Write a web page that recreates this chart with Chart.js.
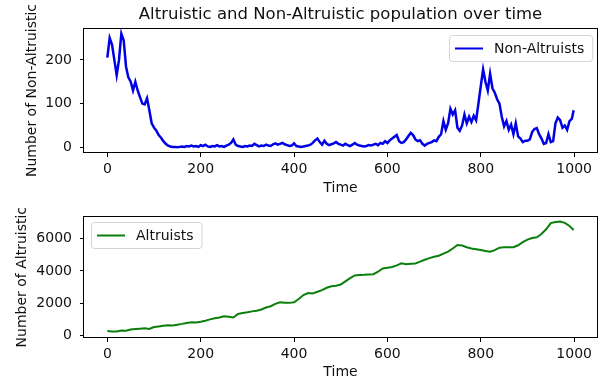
<!DOCTYPE html>
<html>
<head>
<meta charset="utf-8">
<script src="https://cdn.jsdelivr.net/npm/chart.js@4.4.0/dist/chart.umd.min.js"></script>
<style>
  body { margin: 0; background: #fff; }
  #wrap { position: relative; width: 607px; height: 387px; }
  canvas { position: absolute; left: 0; }
</style>
</head>
<body>
<div id="wrap">
  <canvas id="top" width="607" height="200" style="top:0"></canvas>
  <canvas id="bottom" width="607" height="187" style="top:200px"></canvas>
</div>
<script>
// non-altruists, read every 5 time steps (last one is t=999)
const nonAltruists = [
  205, 250, 235, 200, 165, 200, 260, 245, 185, 160, 150, 130, 150, 130, 115, 100, 98, 112, 85, 55,
  45, 38, 28, 22, 14, 8, 4, 2, 1, 1, 0, 1, 2, 1, 3, 2, 4, 2, 3, 1,
  5, 3, 6, 2, 1, 3, 2, 5, 2, 3, 1, 4, 6, 10, 18, 6, 3, 2, 1, 3,
  2, 4, 3, 8, 5, 2, 4, 3, 6, 4, 3, 7, 9, 6, 8, 10, 7, 5, 3, 4,
  9, 3, 2, 1, 2, 3, 4, 6, 10, 16, 20, 12, 6, 15, 8, 5, 7, 9, 12, 8,
  6, 4, 8, 5, 3, 6, 10, 6, 4, 3, 2, 3, 5, 4, 6, 8, 5, 10, 8, 14,
  10, 16, 20, 24, 28, 14, 10, 12, 18, 26, 33, 28, 18, 14, 16, 8, 4, 8, 10, 12,
  16, 14, 24, 30, 60, 40, 55, 88, 75, 85, 45, 38, 50, 75, 55, 70, 58, 72, 62, 100,
  140, 178, 150, 130, 168, 135, 125, 110, 100, 70, 48, 60, 40, 52, 30, 55, 25, 20, 12, 15,
  15, 18, 35, 42, 44, 30, 20, 8, 10, 30, 12, 14, 55, 68, 62, 45, 50, 40, 60, 65,
  85
];
// altruists, read every 10 time steps (last one is t=999)
const altruists = [
  250, 220, 230, 280, 270, 350, 380, 400, 420, 380,
  500, 540, 580, 620, 600, 650, 700, 760, 800, 790,
  830, 900, 980, 1050, 1100, 1180, 1150, 1100, 1320, 1380,
  1420, 1480, 1520, 1600, 1720, 1800, 1950, 2050, 2020, 2010,
  2050, 2250, 2500, 2620, 2600, 2700, 2800, 2950, 3050, 3080,
  3150, 3350, 3550, 3720, 3750, 3760, 3780, 3800, 3950, 4150,
  4200, 4250, 4350, 4480, 4420, 4450, 4470, 4580, 4700, 4800,
  4880, 4950, 5080, 5200, 5400, 5620, 5580, 5480, 5400, 5350,
  5300, 5250, 5200, 5300, 5450, 5480, 5470, 5480, 5600, 5800,
  5950, 6050, 6100, 6300, 6600, 6980, 7050, 7080, 7000, 6800,
  6550
];
const timeTop = nonAltruists.map((_, i) => Math.min(i * 5, 999));
const timeBottom = altruists.map((_, i) => Math.min(i * 10, 999));

const xTicks = [0, 200, 400, 600, 800, 1000];
const yTicksTop = [0, 100, 200];
const yTicksBottom = [0, 2000, 4000, 6000];

Chart.defaults.font.family = '"DejaVu Sans", sans-serif';
Chart.defaults.font.size = 14;
Chart.defaults.color = '#111';

// matplotlib style box around the axes
const framePlugin = {
  id: 'frame',
  afterDraw(chart) {
    const a = chart.chartArea, ctx = chart.ctx;
    ctx.save();
    ctx.strokeStyle = '#000';
    ctx.lineWidth = 1;
    ctx.strokeRect(Math.round(a.left) - 0.5, Math.round(a.top) + 0.5,
      Math.round(a.right - a.left) + 1, Math.round(a.bottom - a.top) - 1);
    ctx.restore();
  }
};

// legend drawn inside the plot
const boxLegend = {
  id: 'boxLegend',
  afterDraw(chart, args, opts) {
    const ctx = chart.ctx, a = chart.chartArea;
    const ds = chart.data.datasets[0];
    ctx.save();
    ctx.font = '14px "DejaVu Sans"';
    const tw = ctx.measureText(ds.label).width;
    const w = 45 + tw + 8, h = 26;
    const x = Math.round(opts.side === 'right' ? a.right - 5 - w : a.left + 7);
    const y = Math.round(a.top + opts.offsetY);
    ctx.beginPath();
    ctx.roundRect(x + 0.5, y + 0.5, w, h, 3);
    ctx.fillStyle = 'rgba(255,255,255,0.8)';
    ctx.fill();
    ctx.strokeStyle = '#d4d4d4';
    ctx.lineWidth = 1;
    ctx.stroke();
    ctx.beginPath();
    ctx.moveTo(x + 6, y + h / 2 + 0.5);
    ctx.lineTo(x + 34, y + h / 2 + 0.5);
    ctx.strokeStyle = ds.borderColor;
    ctx.lineWidth = 2;
    ctx.stroke();
    ctx.fillStyle = '#111';
    ctx.textBaseline = 'middle';
    ctx.fillText(ds.label, x + 45, y + h / 2 + 1);
    ctx.restore();
  }
};

function axisX(height, titleBottom) {
  return {
    type: 'linear',
    min: -50,
    max: 1049,
    afterBuildTicks: s => { s.ticks = xTicks.map(v => ({ value: v })); },
    afterFit: s => { s.height = height; },
    ticks: { padding: 4, maxRotation: 0, autoSkip: false, callback: v => String(v) },
    grid: { drawOnChartArea: false, drawTicks: true, tickLength: 4, color: '#000' },
    border: { display: false },
    title: { display: true, text: 'Time', padding: { top: 0, bottom: titleBottom } }
  };
}

function axisY(min, max, ticks, label, titleLeft) {
  return {
    type: 'linear',
    min: min,
    max: max,
    afterBuildTicks: s => { s.ticks = ticks.map(v => ({ value: v })); },
    afterFit: s => { s.width = 84; },
    ticks: { padding: 8, autoSkip: false, callback: v => String(v) },
    grid: { drawOnChartArea: false, drawTicks: true, tickLength: 4, color: '#000' },
    border: { display: false },
    title: { display: true, text: label, padding: { top: titleLeft, bottom: 0 } }
  };
}

new Chart(document.getElementById('top'), {
  type: 'line',
  data: {
    datasets: [{
      label: 'Non-Altruists',
      data: timeTop.map((t, i) => ({ x: t, y: nonAltruists[i] })),
      borderColor: '#0000e6',
      borderWidth: 2.5,
      pointRadius: 0,
      tension: 0
    }]
  },
  options: {
    responsive: false,
    animation: false,
    layout: { padding: { top: 0, right: 10, left: 0, bottom: 0 } },
    plugins: {
      legend: { display: false },
      tooltip: { enabled: false },
      boxLegend: { side: 'right', offsetY: 7 },
      title: {
        display: true,
        text: 'Altruistic and Non-Altruistic population over time',
        fullSize: false,
        color: '#111',
        font: { size: 16.5, weight: 'normal' },
        padding: { top: 5, bottom: 3.2 }
      }
    },
    scales: {
      x: axisX(47, 3.6),
      y: axisY(-13, 273, yTicksTop, 'Number of Non-Altruistic', 23.6)
    }
  },
  plugins: [framePlugin, boxLegend]
});

new Chart(document.getElementById('bottom'), {
  type: 'line',
  data: {
    datasets: [{
      label: 'Altruists',
      data: timeBottom.map((t, i) => ({ x: t, y: altruists[i] })),
      borderColor: '#0b7f0b',
      borderWidth: 2,
      pointRadius: 0,
      tension: 0
    }]
  },
  options: {
    responsive: false,
    animation: false,
    layout: { padding: { top: 13, right: 10, left: 0, bottom: 0 } },
    plugins: {
      legend: { display: false },
      tooltip: { enabled: false },
      boxLegend: { side: 'left', offsetY: 6 }
    },
    scales: {
      x: axisX(49, 6),
      y: axisY(-180, 7400, yTicksBottom, 'Number of Altruistic', 13.6)
    }
  },
  plugins: [framePlugin, boxLegend]
});
</script>
</body>
</html>
